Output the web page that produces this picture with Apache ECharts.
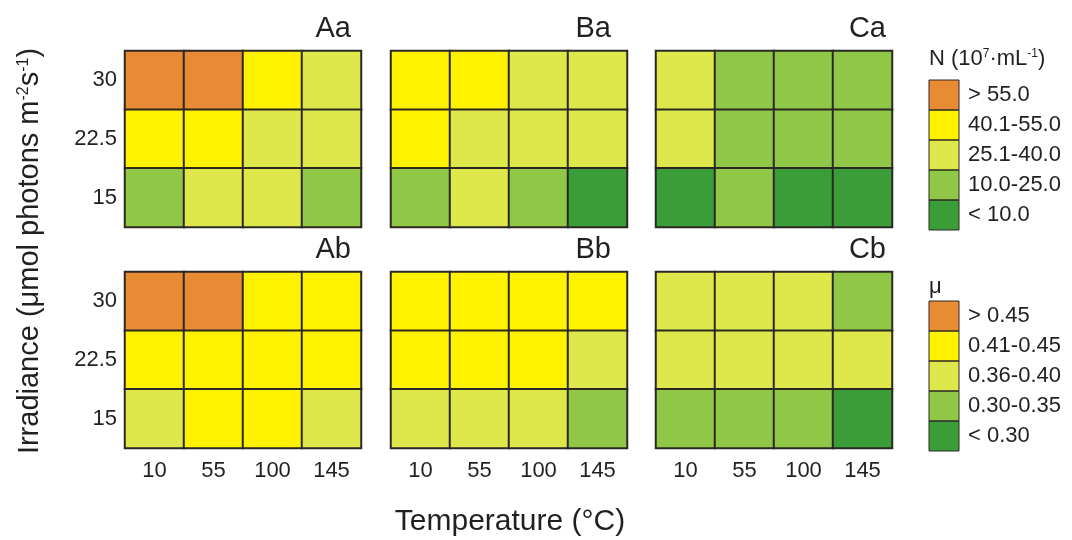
<!DOCTYPE html>
<html>
<head>
<meta charset="utf-8">
<script src="https://cdn.jsdelivr.net/npm/echarts@6/dist/echarts.min.js"></script>
<style>
  html, body { margin: 0; padding: 0; background: #fff; }
  #chart { width: 1072px; height: 540px; }
</style>
</head>
<body>
<div id="chart"></div>
<script>
// Axis categories
const temperatures = ['10', '55', '100', '145'];
const irradiances = ['15', '22.5', '30'];

// Class index per cell (rows: 30, 22.5, 15; columns: 10, 55, 100, 145 °C)
// Cell density N classes: 4 '> 55.0', 3 '40.1-55.0', 2 '25.1-40.0', 1 '10.0-25.0', 0 '< 10.0'
const nClassA = [[4, 4, 3, 2], [3, 3, 2, 2], [1, 2, 2, 1]];
const nClassB = [[3, 3, 2, 2], [3, 2, 2, 2], [1, 2, 1, 0]];
const nClassC = [[2, 1, 1, 1], [2, 1, 1, 1], [0, 1, 0, 0]];
// Growth rate μ classes: 4 '> 0.45', 3 '0.41-0.45', 2 '0.36-0.40', 1 '0.30-0.35', 0 '< 0.30'
const muClassA = [[4, 4, 3, 3], [3, 3, 3, 3], [2, 3, 3, 2]];
const muClassB = [[3, 3, 3, 3], [3, 3, 3, 2], [2, 2, 2, 1]];
const muClassC = [[2, 2, 2, 1], [2, 2, 2, 2], [1, 1, 1, 0]];

const panelNames = ['Aa', 'Ba', 'Ca', 'Ab', 'Bb', 'Cb'];
const nLabels = ['< 10.0', '10.0-25.0', '25.1-40.0', '40.1-55.0', '> 55.0'];
const muLabels = ['< 0.30', '0.30-0.35', '0.36-0.40', '0.41-0.45', '> 0.45'];
const classColors = ['#3a9d37', '#90c746', '#dee84a', '#fff200', '#e98a35'];

const font = 'Liberation Sans, Arial, sans-serif';
const textColor = '#231f20';

const panelGrids = [nClassA, nClassB, nClassC, muClassA, muClassB, muClassC];

const lefts = [125, 391, 656];
const tops = [51, 272];
const titleRight = [351, 611, 886];
const W = 236, H = 176;

function toCells(rows) {
  const out = [];
  rows.forEach((row, r) => {
    const yi = irradiances.length - 1 - r;
    row.forEach((v, xi) => out.push([xi, yi, v]));
  });
  return out;
}

const grid = [], xAxis = [], yAxis = [], series = [], graphic = [];

panelGrids.forEach((rows, i) => {
  const col = i % 3, row = Math.floor(i / 3);
  grid.push({
    left: lefts[col], top: tops[row], width: W, height: H,
    show: true, borderColor: '#6d6d6d', borderWidth: 1, backgroundColor: 'transparent'
  });
  xAxis.push({
    type: 'category', gridIndex: i, data: temperatures,
    axisLine: { show: false }, axisTick: { show: false }, splitLine: { show: false },
    axisLabel: { show: row === 1, margin: 12, fontSize: 22, color: textColor, fontFamily: font }
  });
  yAxis.push({
    type: 'category', gridIndex: i, data: irradiances,
    axisLine: { show: false }, axisTick: { show: false }, splitLine: { show: false },
    axisLabel: { show: col === 0, margin: 8, fontSize: 22, color: textColor, fontFamily: font }
  });
  series.push({
    type: 'heatmap', xAxisIndex: i, yAxisIndex: i,
    data: toCells(rows),
    itemStyle: { borderColor: '#2b2824', borderWidth: 2 },
    emphasis: { disabled: true }
  });
  graphic.push({
    type: 'text', x: titleRight[col], y: tops[row] - 22,
    style: { text: panelNames[i], fontSize: 29, fontFamily: font, fill: textColor, align: 'right', verticalAlign: 'middle' }
  });
});

function pieces(labels) {
  return labels.map((label, v) => ({ value: v, label: label, color: classColors[v] })).reverse();
}

const legendTops = [80, 301];

const visualMap = [
  {
    type: 'piecewise', seriesIndex: [0, 1, 2], dimension: 2,
    pieces: pieces(nLabels), orient: 'vertical', align: 'left', padding: 0,
    left: 929, top: legendTops[0], itemWidth: 30, itemHeight: 30, itemGap: 0, itemSymbol: 'rect',
    textGap: 9, selectedMode: false, hoverLink: false,
    textStyle: { fontSize: 22, color: textColor, fontFamily: font }
  },
  {
    type: 'piecewise', seriesIndex: [3, 4, 5], dimension: 2,
    pieces: pieces(muLabels), orient: 'vertical', align: 'left', padding: 0,
    left: 929, top: legendTops[1], itemWidth: 30, itemHeight: 30, itemGap: 0, itemSymbol: 'rect',
    textGap: 9, selectedMode: false, hoverLink: false,
    textStyle: { fontSize: 22, color: textColor, fontFamily: font }
  }
];

// Outlines around the legend swatches
legendTops.forEach(top => {
  for (let k = 0; k < 5; k++) {
    graphic.push({
      type: 'rect', z: 100, silent: true,
      shape: { x: 929, y: top + k * 30, width: 30, height: 30 },
      style: { fill: 'none', stroke: '#2b2824', lineWidth: 1 }
    });
  }
});

// Legend titles
graphic.push({
  type: 'text', x: 929, y: 59,
  style: {
    text: 'N (10{sup|7}·mL{sup|-1})', fontSize: 22, fontFamily: font, fill: textColor, verticalAlign: 'middle',
    rich: { sup: { fontSize: 12, verticalAlign: 'top', fontFamily: font, fill: textColor, padding: [0, 0, 9, 0] } }
  }
});
graphic.push({
  type: 'text', x: 929, y: 287,
  style: { text: 'μ', fontSize: 22, fontFamily: font, fill: textColor, verticalAlign: 'middle' }
});

// Axis titles
graphic.push({
  type: 'text', x: 510, y: 522,
  style: { text: 'Temperature (°C)', fontSize: 30, fontFamily: font, fill: textColor, align: 'center', verticalAlign: 'middle' }
});
graphic.push({
  type: 'text', x: 30, y: 251, rotation: Math.PI / 2,
  style: {
    text: 'Irradiance (μmol photons m{sup|-2}s{sup|-1})', fontSize: 29, fontFamily: font, fill: textColor,
    align: 'center', verticalAlign: 'middle',
    rich: { sup: { fontSize: 16, fontFamily: font, fill: textColor, verticalAlign: 'top', padding: [0, 0, 12, 0] } }
  }
});

const chart = echarts.init(document.getElementById('chart'), null, { renderer: 'canvas' });
chart.setOption({
  backgroundColor: '#ffffff',
  animation: false,
  grid, xAxis, yAxis, series, visualMap, graphic
});
</script>
</body>
</html>
